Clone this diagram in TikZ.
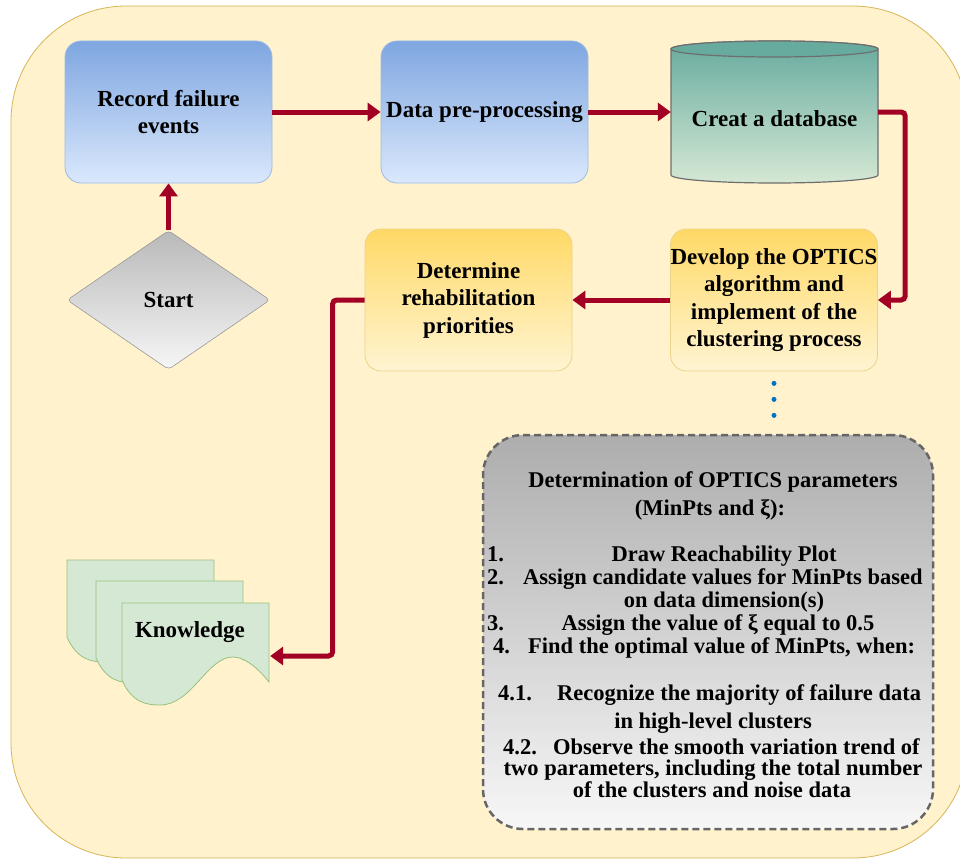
\documentclass[tikz,border=0pt]{standalone}
\usepackage{fontspec}
\setmainfont{Liberation Serif}
\usetikzlibrary{arrows.meta,shapes.geometric,calc}

\definecolor{bgfill}{HTML}{FFF2CC}
\definecolor{bgline}{HTML}{D6B656}
\definecolor{flowred}{HTML}{A20025}
\definecolor{blueTop}{HTML}{7EA6E0}
\definecolor{blueBot}{HTML}{DAE8FC}
\definecolor{blueLine}{HTML}{9BBBE8}
\definecolor{yelTop}{HTML}{FFD966}
\definecolor{yelBot}{HTML}{FFF4D2}
\definecolor{yelLine}{HTML}{EDD28A}
\definecolor{dbTop}{HTML}{67AB9F}
\definecolor{dbBot}{HTML}{D5E8D4}
\definecolor{dbLine}{HTML}{6E6E6E}
\definecolor{grayTop}{HTML}{ADADAD}
\definecolor{grayBot}{HTML}{F7F7F7}
\definecolor{grayLine}{HTML}{666666}
\definecolor{docFill}{HTML}{D5E8D4}
\definecolor{docLine}{HTML}{97C17F}
\definecolor{dotBlue}{HTML}{0072C6}

\tikzset{
  bigtext/.style={font=\fontsize{23}{27.5}\selectfont\bfseries, align=center},
  listtext/.style={font=\fontsize{22.5}{24}\selectfont\bfseries, inner sep=0pt},
  procbox/.style={rectangle, rounded corners=16, minimum width=207, minimum height=142,
    inner sep=0pt, line width=0.8, bigtext},
  bluebox/.style={procbox, draw=blueLine, top color=blueTop, bottom color=blueBot},
  yelbox/.style={procbox, draw=yelLine, top color=yelTop, bottom color=yelBot},
  flow/.style={draw=flowred, line width=5, rounded corners=4,
    -{Triangle[length=13pt,width=18pt]}},
  dotline/.style={draw=dotBlue, line width=5, line cap=round,
    dash pattern=on 0pt off 16pt, dash phase=4pt, shorten >=18pt},
  docstyle/.style={draw=docLine, fill=docFill, line width=0.8},
  docpage/.pic={
    \draw[docstyle] (0,0) -- (147,0) -- (147,79)
      .. controls (140,70) and (125,54) .. (111,54)
      .. controls (85,54) and (70,102) .. (38,102)
      .. controls (25,102) and (10,100) .. (0,77) -- cycle;
  }
}

\begin{document}
\begin{tikzpicture}[x=1pt,y=-1pt]
\useasboundingbox (0,0) rectangle (960,859);
\clip (0,0) rectangle (960,859);

% background panel
\draw[bgline, fill=bgfill, line width=0.8, rounded corners=115] (11,6) rectangle (968,858);

% top row
\node[bluebox] (rec) at (168.5,112) {Record failure\\events};
\node[bluebox] (pre) at (484.5,112) {Data pre-processing};

% database cylinder
\node[rectangle, minimum width=207, minimum height=142, inner sep=0pt] (db) at (774.5,112) {};
\draw[dbLine, line width=1.2, top color=dbTop, bottom color=dbBot]
  (671,49) -- (671,175) arc[start angle=180, end angle=0, x radius=103.5, y radius=8]
  -- (878,49) arc[start angle=0, end angle=-180, x radius=103.5, y radius=8] -- cycle;
\draw[dbLine, line width=1.2, fill=dbTop] (774.5,49) ellipse[x radius=103.5, y radius=8];
\node[bigtext] (dbtext) at (774.5,119) {Creat a database};

% second row
\node[diamond, aspect=1.46, minimum width=203, minimum height=139, inner sep=0pt,
  draw=gray!80, line width=0.6, rounded corners=4, top color=gray!55, bottom color=gray!7,
  bigtext] (start) at (168.5,300) {Start};
\node[yelbox] (det) at (468.5,300) {Determine\\rehabilitation\\priorities};
\node[yelbox] (opt) at (774,300) {Develop the OPTICS\\algorithm and\\implement of the\\clustering process};

% knowledge documents
\pic at (67,560) {docpage};
\pic at (96,581) {docpage};
\pic at (122,603) {docpage};
\node[rectangle, minimum width=148, minimum height=102, inner sep=0pt] (know) at (196,656) {};
\node[bigtext] (knowtext) at (190,632) {Knowledge};

% parameter panel
\node[rectangle, rounded corners=40, minimum width=450, minimum height=394, inner sep=0pt,
  draw=grayLine, line width=2.5, dash pattern=on 7pt off 4pt,
  top color=grayTop, bottom color=grayBot] (par) at (708,632) {};

\node[listtext, anchor=base] (p1) at (713,487) {Determination of OPTICS parameters};
\node[listtext, anchor=base] (p2) at (710,515) {(MinPts and ξ):};
\node[listtext, anchor=base west] (n1) at (487,561) {1.};
\node[listtext, anchor=base] (p3) at (724,561) {Draw Reachability Plot};
\node[listtext, anchor=base west] (n2) at (487,584) {2.};
\node[listtext, anchor=base west] (p4) at (523,584) {Assign candidate values for MinPts based};
\node[listtext, anchor=base] (p5) at (724,607) {on data dimension(s)};
\node[listtext, anchor=base west] (n3) at (487,630) {3.};
\node[listtext, anchor=base] (p6) at (718,630) {Assign the value of ξ equal to 0.5};
\node[listtext, anchor=base west] (n4) at (493,653) {4.};
\node[listtext, anchor=base west] (p7) at (528,653) {Find the optimal value of MinPts, when:};
\node[listtext, anchor=base west] (n41) at (498,700) {4.1.};
\node[listtext, anchor=base west] (p8) at (557,700) {Recognize the majority of failure data};
\node[listtext, anchor=base] (p9) at (713,728) {in high-level clusters};
\node[listtext, anchor=base west] (n42) at (503,754) {4.2.};
\node[listtext, anchor=base west] (p10) at (553,754) {Observe the smooth variation trend of};
\node[listtext, anchor=base] (p11) at (713,775) {two parameters, including the total number};
\node[listtext, anchor=base] (p12) at (712,797) {of the clusters and noise data};

% connectors
\draw[flow] (start.north) -- (rec.south);
\draw[flow] (rec.east) -- (pre.west);
\draw[flow] (pre.east) -- (db.west);
\draw[flow] (db.east) -- ++(27,0) |- (opt.east);
\draw[flow] (opt.west) -- (det.east);
\draw[flow] (det.west) -- ++(-32,0) |- (know.east);
\draw[dotline] (opt.south) -- (opt.south |- par.north);
\end{tikzpicture}
\end{document}
